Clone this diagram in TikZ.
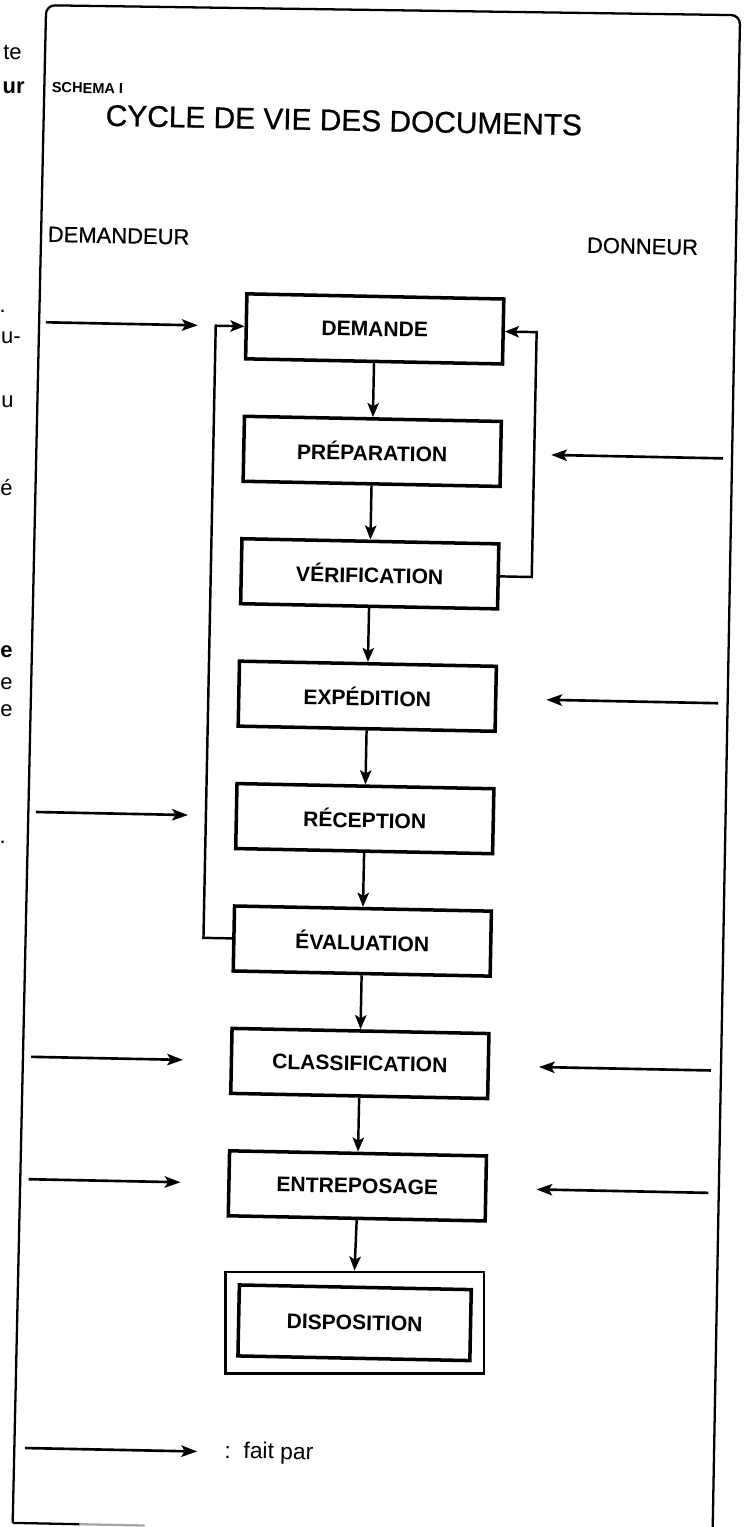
\documentclass[tikz,border=0pt]{standalone}
\usepackage{fontspec}
\setmainfont{Liberation Sans}
\usetikzlibrary{arrows.meta,positioning,fit}

\tikzset{
  stage/.style={rectangle, draw, line width=2pt, minimum width=5.14cm, minimum height=1.3cm, inner sep=3pt, font=\bfseries\fontsize{12}{14}\selectfont},
  flow/.style={-{Stealth[length=8pt,width=6.5pt,inset=1.8pt]}, line width=1.4pt},
  side/.style={-{Stealth[length=9pt,width=6.5pt,inset=2pt]}, line width=1.5pt},
  frag/.style={anchor=east, inner sep=0pt, font=\fontsize{12.5}{14}\selectfont},
  label/.style={inner sep=0pt, font=\fontsize{12.5}{15}\selectfont\addfontfeature{FakeBold=0.6}}
}

\begin{document}
\begin{tikzpicture}[x=0.02cm, y=-0.02cm]
  \useasboundingbox[fill=white] (0,0) rectangle (750,1527);

  % bits of the facing page
  \node[frag] (fa) at (22,53) {te};
  \node[frag, font=\bfseries\fontsize{12.5}{14}\selectfont] (fb) at (25,88) {ur};
  \node[frag] (fc) at (6,311) {.};
  \node[frag] (fd) at (21,338) {u-};
  \node[frag] (fe) at (14,402) {u};
  \node[frag] (ff) at (13,488) {é};
  \node[frag, font=\bfseries\fontsize{12.5}{14}\selectfont] (fg) at (13,652) {e};
  \node[frag] (fh) at (13,684) {e};
  \node[frag] (fi) at (13,711) {e};
  \node[frag] (fj) at (6,842) {.};

  \begin{scope}[rotate around={-1.15:(375,763)}, transform shape]
    % frame
    \draw[line width=1.3pt, rounded corners=5pt] (28,1530) -- (31,12) -- (725,8) -- (728,1530);
    \draw[line width=1.3pt] (28,1530) -- (95,1530);
    \draw[line width=1.3pt, black!35] (95,1530) -- (160,1530);

    \node[anchor=west, inner sep=0pt, font=\bfseries\fontsize{8.3}{10}\selectfont] (schema) at (38,94) {SCHEMA I};
    \node[inner sep=0pt, font=\fontsize{17}{20}\selectfont\addfontfeature{FakeBold=0.8}] (title) at (331,121) {CYCLE DE VIE DES DOCUMENTS};
    \node[label, anchor=west] (asker) at (37,241) {DEMANDEUR};
    \node[label, anchor=east] (giver) at (688,241) {DONNEUR};

    % the cycle
    \node[stage] (dem) at (366,329) {DEMANDE};
    \node[stage, below=1.08cm of dem] (prep) {PRÉPARATION};
    \node[stage, below=1.08cm of prep] (verif) {VÉRIFICATION};
    \node[stage, below=1.08cm of verif] (exped) {EXPÉDITION};
    \node[stage, below=1.08cm of exped] (recep) {RÉCEPTION};
    \node[stage, below=1.08cm of recep] (eval) {ÉVALUATION};
    \node[stage, below=1.08cm of eval] (class) {CLASSIFICATION};
    \node[stage, below=1.08cm of class] (entre) {ENTREPOSAGE};
    \node[stage, minimum width=4.64cm, minimum height=1.42cm, below=1.31cm of entre] (disp) {DISPOSITION};
    \node[draw, line width=1.4pt, fit=(disp), inner xsep=0.23cm, inner ysep=0.27cm] (dispframe) {};

    \draw[flow] (dem.south) -- (prep.north);
    \draw[flow] (prep.south) -- (verif.north);
    \draw[flow] (verif.south) -- (exped.north);
    \draw[flow] (exped.south) -- (recep.north);
    \draw[flow] (recep.south) -- (eval.north);
    \draw[flow] (eval.south) -- (class.north);
    \draw[flow] (class.south) -- (entre.north);
    \draw[flow] (entre.south) -- (dispframe.north);

    % return loops
    \coordinate (lloop) at (207,0);
    \coordinate (rloop) at (528,0);
    \draw[flow] (eval.west) -- (eval.west -| lloop) -- (dem.west -| lloop) -- (dem.west);
    \draw[flow] (verif.east) -- (verif.east -| rloop) -- (dem.east -| rloop) -- (dem.east);

    % who does what
    \coordinate (askL) at (37,0);
    \coordinate (askR) at (189,0);
    \coordinate (giveR) at (717,0);
    \coordinate (giveL) at (545,0);
    \draw[side] (dem -| askL) -- (dem -| askR);
    \draw[side] (recep -| askL) -- (recep -| askR);
    \draw[side] (class -| askL) -- (class -| askR);
    \draw[side] (entre -| askL) -- (entre -| askR);
    \draw[side] (prep -| giveR) -- (prep -| giveL);
    \draw[side] (exped -| giveR) -- (exped -| giveL);
    \draw[side] (class -| giveR) -- (class -| giveL);
    \draw[side] (entre -| giveR) -- (entre -| giveL);

    % legend
    \coordinate (keyA) at (39,1455);
    \node[anchor=west, inner sep=0pt, font=\fontsize{13}{15}\selectfont] (key) at (238,1455) {:\ \ fait\ par};
    \draw[side] (keyA) -- (key.west -| 211,0);
  \end{scope}
\end{tikzpicture}
\end{document}
